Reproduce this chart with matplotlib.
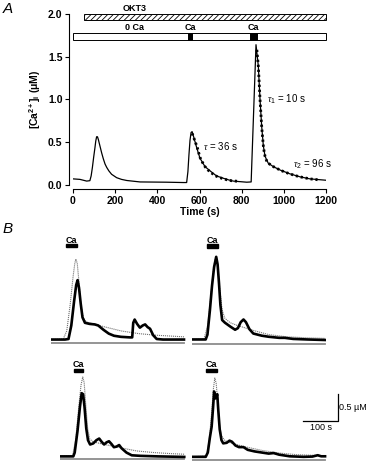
import numpy as np
import matplotlib
matplotlib.use("Agg")
import matplotlib.pyplot as plt
from matplotlib.patches import Rectangle

plt.rcParams['font.family'] = ['Liberation Sans', 'DejaVu Sans']
plt.rcParams['mathtext.fontset'] = 'custom'
plt.rcParams['mathtext.rm'] = 'Liberation Sans'
plt.rcParams['mathtext.bf'] = 'Liberation Sans:bold'
plt.rcParams['mathtext.it'] = 'Liberation Serif:italic'
plt.rcParams['hatch.linewidth'] = 0.6

# ---- panel A data (time s, [Ca2+]i uM) ----
t_a = [0, 33, 65, 80, 86, 92, 98, 104, 108, 112, 116, 120, 128, 136, 144, 152, 160, 170,
       183, 195, 207, 230, 255, 318, 444, 523, 539, 545, 550, 555, 560, 565, 571, 587,
       602, 626, 650, 681, 729, 760, 824, 845, 856, 868, 879, 887, 895, 903, 911, 926,
       950, 982, 1029, 1077, 1124, 1200]
ca_a = [0.066, 0.06, 0.04, 0.045, 0.10, 0.20, 0.32, 0.43, 0.51, 0.56, 0.56, 0.53, 0.45,
        0.37, 0.30, 0.24, 0.20, 0.16, 0.12, 0.10, 0.08, 0.06, 0.047, 0.03, 0.027, 0.023,
        0.023, 0.15, 0.35, 0.52, 0.61, 0.62, 0.57, 0.43, 0.31, 0.21, 0.16, 0.10, 0.06,
        0.04, 0.027, 0.03, 0.80, 1.64, 1.39, 1.00, 0.68, 0.45, 0.33, 0.25, 0.21, 0.17,
        0.125, 0.09, 0.066, 0.05]
# fitted decays (dotted)
t_fit1 = [565, 571, 580, 590, 602, 614, 626, 640, 655, 670, 690, 710, 730, 750, 770, 780]
ca_fit1 = [0.60, 0.56, 0.50, 0.43, 0.32, 0.26, 0.21, 0.17, 0.14, 0.11, 0.085, 0.07, 0.055,
           0.045, 0.04, 0.038]
t_fit2 = [872, 879, 883, 887, 891, 895, 899, 903, 907, 911, 918, 926, 938, 950, 966, 982,
          1005, 1029, 1053, 1077, 1100, 1124, 1145, 1160]
ca_fit2 = [1.58, 1.39, 1.20, 1.00, 0.84, 0.68, 0.56, 0.45, 0.38, 0.33, 0.28, 0.25, 0.23,
           0.21, 0.19, 0.17, 0.145, 0.125, 0.105, 0.09, 0.078, 0.066, 0.06, 0.056]

okt3_span = (54, 1200)
bar_span = (0, 1200)
ca_pulses = [(547, 563), (840, 871)]

# ---- panel B data ----
tl_t = [0, 40, 50, 58, 66, 72, 76, 80, 85, 90, 97, 110, 125, 135, 150, 165, 180, 200, 225,
        232, 235, 239, 246, 254, 262, 269, 276, 283, 292, 302, 320, 380]
tl_v = [0.04, 0.04, 0.05, 0.30, 0.75, 1.05, 1.14, 1.00, 0.70, 0.45, 0.35, 0.33, 0.32, 0.30,
        0.22, 0.15, 0.11, 0.09, 0.08, 0.08, 0.35, 0.41, 0.33, 0.26, 0.30, 0.32, 0.27, 0.24,
        0.12, 0.05, 0.04, 0.04]
tl_ft = [0, 35, 45, 55, 63, 68, 71, 75, 80, 85, 92, 100, 120, 150, 200, 250, 300, 380]
tl_fv = [0.04, 0.05, 0.20, 0.70, 1.20, 1.45, 1.53, 1.45, 1.10, 0.70, 0.45, 0.37, 0.33, 0.28,
         0.20, 0.15, 0.12, 0.09]

tr_t = [0, 40, 45, 52, 58, 64, 70, 74, 78, 82, 87, 95, 110, 124, 132, 140, 148, 155, 165,
        176, 200, 220, 250, 266, 290, 330, 381]
tr_v = [0.06, 0.06, 0.15, 0.60, 1.05, 1.40, 1.59, 1.45, 1.10, 0.70, 0.42, 0.37, 0.30, 0.24,
        0.27, 0.38, 0.43, 0.38, 0.25, 0.17, 0.13, 0.11, 0.09, 0.09, 0.07, 0.06, 0.05]
tr_ft = [0, 35, 45, 55, 63, 69, 74, 80, 87, 95, 110, 130, 150, 180, 220, 270, 330, 381]
tr_fv = [0.06, 0.07, 0.30, 0.90, 1.40, 1.60, 1.45, 1.00, 0.60, 0.45, 0.37, 0.32, 0.28,
         0.22, 0.15, 0.11, 0.09, 0.08]

bl_t = [0, 38, 42, 50, 57, 62, 66, 70, 75, 80, 86, 95, 104, 112, 119, 126, 133, 140, 147,
        154, 161, 169, 176, 190, 205, 230, 280, 355]
bl_v = [0.03, 0.03, 0.10, 0.50, 0.95, 1.20, 1.18, 0.95, 0.55, 0.33, 0.25, 0.27, 0.33, 0.36,
        0.30, 0.25, 0.29, 0.31, 0.26, 0.20, 0.21, 0.24, 0.18, 0.10, 0.05, 0.04, 0.03, 0.02]
bl_ft = [0, 36, 45, 53, 60, 65, 69, 74, 79, 85, 95, 120, 150, 180, 220, 270, 320, 355]
bl_fv = [0.03, 0.04, 0.35, 0.90, 1.35, 1.50, 1.40, 0.95, 0.55, 0.35, 0.30, 0.26, 0.22,
         0.18, 0.13, 0.10, 0.08, 0.07]

br_t = [0, 40, 46, 52, 57, 61, 64, 67, 70, 73, 76, 80, 85, 90, 100, 108, 115, 125, 135,
        148, 160, 180, 200, 220, 234, 250, 280, 320, 345, 360, 370, 381]
br_v = [0.04, 0.04, 0.12, 0.40, 0.60, 0.95, 1.25, 1.12, 1.15, 1.20, 0.90, 0.55, 0.35, 0.29,
        0.30, 0.34, 0.32, 0.25, 0.22, 0.22, 0.17, 0.14, 0.12, 0.10, 0.11, 0.08, 0.05, 0.04,
        0.045, 0.07, 0.05, 0.05]
br_ft = [0, 42, 50, 57, 62, 66, 70, 75, 80, 86, 95, 115, 150, 200, 250, 300, 381]
br_fv = [0.04, 0.06, 0.35, 0.85, 1.30, 1.50, 1.40, 1.00, 0.60, 0.42, 0.34, 0.29, 0.23,
         0.16, 0.11, 0.08, 0.06]

W, H = 370, 466
fig = plt.figure(figsize=(W / 100, H / 100), dpi=100)


def px_axes(x0, ytop, w, h):
    return fig.add_axes([x0 / W, 1 - (ytop + h) / H, w / W, h / H])


# ================= panel A =================
ax = px_axes(73, 14, 253, 170.5)
ax.plot(t_a, ca_a, color='black', lw=0.9)
ax.plot(t_fit1, ca_fit1, color='black', lw=2.0, ls=(0, (0.8, 1.0)))
ax.plot(t_fit2, ca_fit2, color='black', lw=2.0, ls=(0, (0.8, 1.0)))
ax.set_xlim(0, 1200)
ax.set_ylim(0, 2.0)
ax.spines['top'].set_visible(False)
ax.spines['right'].set_visible(False)
ax.spines['left'].set_position(('outward', 3))
ax.spines['bottom'].set_position(('outward', 3.5))
for s in ['left', 'bottom']:
    ax.spines[s].set_linewidth(0.8)
ax.set_xticks([0, 200, 400, 600, 800, 1000, 1200])
ax.set_yticks([0.0, 0.5, 1.0, 1.5, 2.0])
ax.set_yticklabels(['0.0', '0.5', '1.0', '1.5', '2.0'])
ax.tick_params(labelsize=7.5, length=3, width=0.8, pad=1.5)
for lab in ax.get_xticklabels() + ax.get_yticklabels():
    lab.set_fontweight('bold')
ax.set_xlabel('Time (s)', fontsize=7.5, fontweight='bold', labelpad=1)
ax.set_ylabel(r'[Ca$^{\mathbf{2+}}$]$_{\mathbf{i}}$ ($\mathbf{\mu}$M)', fontsize=7.5,
              fontweight='bold', labelpad=4)

# OKT3 hatched bar and solution bar
ax.add_patch(Rectangle((okt3_span[0], 1.93), okt3_span[1] - okt3_span[0], 0.068,
                       facecolor='white', edgecolor='black', hatch='//////', lw=0.7,
                       clip_on=False))
ax.text(294, 2.01, 'OKT3', fontsize=6.5, fontweight='bold', ha='center', va='bottom')
ax.add_patch(Rectangle((bar_span[0], 1.70), bar_span[1] - bar_span[0], 0.075,
                       facecolor='white', edgecolor='black', lw=0.7, clip_on=False))
for a, b in ca_pulses:
    ax.add_patch(Rectangle((a, 1.70), b - a, 0.075, facecolor='black', edgecolor='black',
                           lw=0.7, clip_on=False))
ax.text(290, 1.785, '0 Ca', fontsize=6.5, fontweight='bold', ha='center', va='bottom')
ax.text(555, 1.785, 'Ca', fontsize=6.5, fontweight='bold', ha='center', va='bottom')
ax.text(855, 1.785, 'Ca', fontsize=6.5, fontweight='bold', ha='center', va='bottom')

ax.text(617, 0.45, r'$\tau$ = 36 s', fontsize=7, va='center')
ax.text(918, 1.0, r'$\tau_1$ = 10 s', fontsize=7, va='center')
ax.text(1045, 0.24, r'$\tau_2$ = 96 s', fontsize=7, va='center')

fig.text(3 / W, 1 - 13 / H, 'A', fontsize=11, fontstyle='italic')
fig.text(3 / W, 1 - 233 / H, 'B', fontsize=11, fontstyle='italic')

# ================= panel B =================
PX_S = 35 / 100.0   # px per second
PX_UM = 54.0        # px per uM
YMAX = 2.04


def b_axes(x0, ybase, tmax, t, v, ft, fv, bar, bar_y, txt_y):
    w = tmax * PX_S
    axb = px_axes(x0, ybase - YMAX * PX_UM, w, (YMAX + 0.06) * PX_UM)
    axb.set_xlim(0, tmax)
    axb.set_ylim(-0.06, YMAX)
    axb.axis('off')
    tend = t[-1]
    axb.plot([0, tend], [-0.02, -0.02], color='0.55', lw=1.3)
    axb.plot(ft, fv, color='0.45', lw=0.8, ls=(0, (1, 0.8)))
    axb.plot(t, v, color='black', lw=1.9)
    axb.add_patch(Rectangle((bar[0], bar_y), bar[1] - bar[0], 0.06, color='black'))
    axb.text((bar[0] + bar[1]) / 2, txt_y, 'Ca', fontsize=6.5, fontweight='bold',
             ha='center', va='center')
    return axb


b_axes(51, 341.7, 385, tl_t, tl_v, tl_ft, tl_fv, (44, 74), 1.75, 1.88)
b_axes(191.7, 342.7, 385, tr_t, tr_v, tr_ft, tr_fv, (44, 74), 1.76, 1.89)
b_axes(60, 458, 385, bl_t, bl_v, bl_ft, bl_fv, (40, 67), 1.59, 1.73)
axbr = b_axes(191.7, 459, 440, br_t, br_v, br_ft, br_fv, (40, 73), 1.61, 1.75)

# scale bar
axbr.plot([318, 418, 418], [0.70, 0.70, 1.20], color='black', lw=0.9, clip_on=False)
axbr.text(422, 0.95, '0.5 µM', fontsize=6.5, ha='left', va='center')
axbr.text(368, 0.58, '100 s', fontsize=6.5, ha='center', va='center')

fig.savefig('out.png', dpi=100)
